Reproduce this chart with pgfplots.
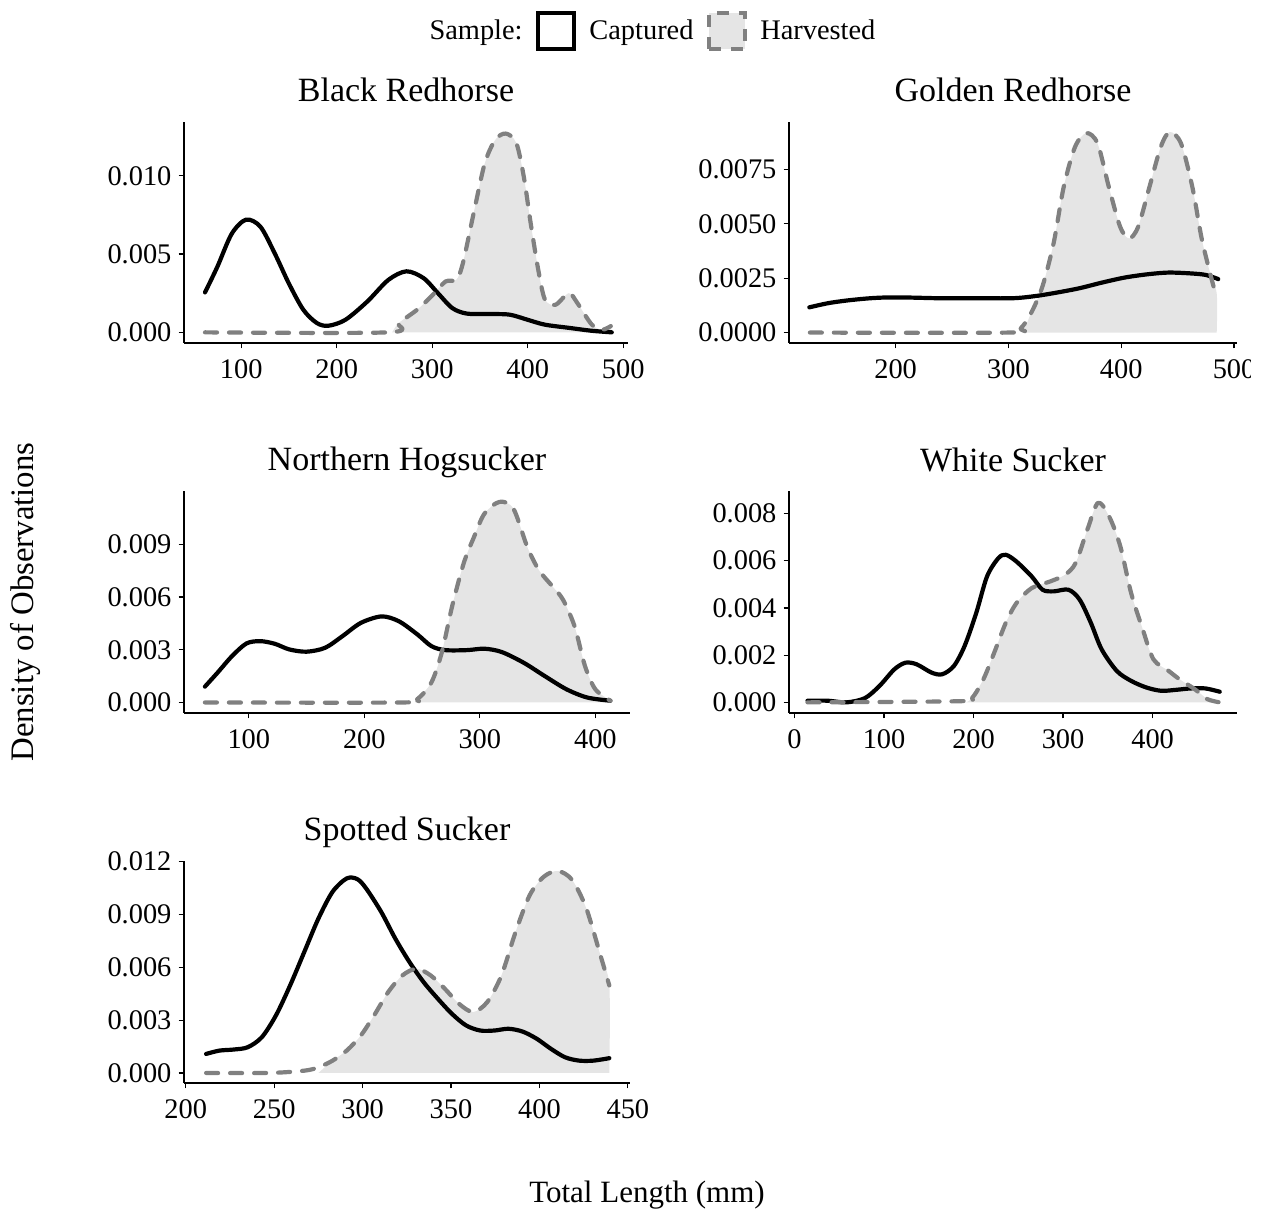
\documentclass[border=0pt]{standalone}
\usepackage{pgfplots}
\pgfplotsset{compat=1.18}
\usepackage{fontspec}
\setmainfont{Liberation Serif}
\definecolor{harvline}{HTML}{808080}
\definecolor{hfill}{HTML}{E5E5E5}
\pgfplotsset{
  dens/.style={
    scale only axis,
    axis x line*=bottom, axis y line*=left,
    axis line style={-, line width=0.6pt, black},
    every outer x axis line/.append style={-},
    every outer y axis line/.append style={-},
    xtick pos=left, ytick pos=left,
    tick align=outside,
    major tick length=2.75pt,
    every tick/.style={black, line width=0.6pt},
    tick label style={font=\fontsize{14.2}{16}\selectfont, black},
    xticklabel style={yshift=-2pt},
    /pgf/number format/assume math mode=true,
    scaled y ticks=false, scaled x ticks=false,
    title style={font=\fontsize{17}{20}\selectfont, at={(0.5,1)}, anchor=base, yshift=4pt},
  },
  capt/.style={black, line width=2.1pt, line join=round, line cap=round, smooth, tension=0.5, forget plot},
  harv/.style={harvline, line width=2.1pt, dash pattern=on 6pt off 6pt, line cap=round, line join=round, smooth, tension=0.5, forget plot},
  hfillst/.style={fill=hfill, draw=none, smooth, tension=0.5, forget plot},
}
\begin{document}
\begin{tikzpicture}
\useasboundingbox (0,0) rectangle (631.5pt,607pt);
\clip (0,0) rectangle (625pt,607pt);

% ---------- Black Redhorse ----------
\begin{axis}[dens, at={(92pt,435.5pt)}, anchor=south west, width=222pt, height=110.5pt,
  xmin=40, xmax=505, ymin=-0.00068, ymax=0.01344,
  xtick={100,200,300,400,500}, xticklabels={100,200,300,400,500},
  ytick={0,0.005,0.01}, yticklabels={0.000,0.005,0.010},
  title={Black Redhorse},
  legend columns=-1,
  legend style={draw=none, fill=none, font=\fontsize{14.2}{16}\selectfont, at={(1.045,1.412)}, anchor=center,
    /tikz/every odd column/.append style={column sep=4.5pt},
    /tikz/every even column/.append style={column sep=4.5pt}},
]
\addlegendimage{empty legend}\addlegendentry{Sample:}
\addlegendimage{legend image code/.code={\draw[black, line width=2.4pt, fill=white] (0pt,-9pt) rectangle (18pt,9pt);}}
\addlegendentry{Captured}
\addlegendimage{legend image code/.code={\draw[harvline, line width=2.4pt, fill=hfill, dash pattern=on 6pt off 5pt] (0pt,-9pt) rectangle (18pt,9pt);}}
\addlegendentry{Harvested}
\addplot[hfillst] coordinates {(258,0) (265,0.0006) (284,0.00144) (299,0.0023) (314,0.00325) (325,0.00335) (332,0.0044) (344,0.0078) (355,0.0108) (366,0.0123) (377,0.0127) (388,0.0121) (396,0.0099) (403,0.007) (411,0.004) (418,0.0021) (429,0.00176) (443,0.0025) (452,0.00187) (467,0.0005) (478,0.00017) (487,0.0004) (487,0)} \closedcycle;
\addplot[capt] coordinates {(62,0.00255) (75,0.0042) (90,0.0063) (105,0.0072) (120,0.00675) (135,0.00505) (150,0.0031) (165,0.00144) (179,0.0006) (191,0.00042) (209,0.0008) (232,0.00197) (254,0.00335) (273,0.0039) (291,0.00346) (306,0.0025) (321,0.00155) (336,0.0012) (359,0.00117) (381,0.00113) (400,0.0008) (418,0.00049) (444,0.00028) (467,0.0001) (488,0.0)};
\addplot[harv] coordinates {(62,0) (254,0) (265,0.0006) (284,0.00144) (299,0.0023) (314,0.00325) (325,0.00335) (332,0.0044) (344,0.0078) (355,0.0108) (366,0.0123) (377,0.0127) (388,0.0121) (396,0.0099) (403,0.007) (411,0.004) (418,0.0021) (429,0.00176) (443,0.0025) (452,0.00187) (467,0.0005) (478,0.00017) (487,0.0004)};
\end{axis}

% ---------- Golden Redhorse ----------
\begin{axis}[dens, at={(394.5pt,435.5pt)}, anchor=south west, width=224pt, height=110.5pt,
  xmin=105.5, xmax=502.6, ymin=-0.00048, ymax=0.00969,
  xtick={200,300,400,500}, xticklabels={200,300,400,500},
  ytick={0,0.0025,0.005,0.0075}, yticklabels={0.0000,0.0025,0.0050,0.0075},
  title={Golden Redhorse},
]
\addplot[hfillst] coordinates {(313,0) (320,0.00089) (330,0.0021) (340,0.0041) (349,0.0067) (359,0.00854) (369,0.00918) (379,0.0087) (389,0.0067) (399,0.00487) (407,0.00433) (415,0.00487) (425,0.0067) (435,0.00854) (443,0.00923) (453,0.0087) (463,0.0067) (471,0.0044) (478,0.00288) (484.6,0.0018) (484.6,0)} \closedcycle;
\addplot[capt] coordinates {(123.5,0.00116) (140,0.00135) (156,0.00147) (173,0.00156) (189,0.00161) (212,0.00161) (238,0.00158) (271,0.00158) (304,0.00158) (324,0.00168) (343,0.00184) (363,0.00204) (383,0.0023) (403,0.00253) (423,0.00268) (442,0.00276) (462,0.00272) (475,0.00265) (486,0.00246)};
\addplot[harv] coordinates {(124,0) (301,0) (311,0.0002) (320,0.00089) (330,0.0021) (340,0.0041) (349,0.0067) (359,0.00854) (369,0.00918) (379,0.0087) (389,0.0067) (399,0.00487) (407,0.00433) (415,0.00487) (425,0.0067) (435,0.00854) (443,0.00923) (453,0.0087) (463,0.0067) (471,0.0044) (478,0.00288) (484,0.0017)};
\end{axis}

% ---------- Northern Hogsucker ----------
\begin{axis}[dens, at={(92pt,250.5pt)}, anchor=south west, width=223pt, height=111pt,
  xmin=43.9, xmax=430, ymin=-0.0006, ymax=0.01204,
  xtick={100,200,300,400}, xticklabels={100,200,300,400},
  ytick={0,0.003,0.006,0.009}, yticklabels={0.000,0.003,0.006,0.009},
  title={Northern Hogsucker},
]
\addplot[hfillst] coordinates {(244,0) (246,0.0002) (258,0.00113) (267,0.00283) (276,0.00547) (286,0.00792) (295,0.00943) (304,0.01075) (317,0.01142) (329,0.01104) (341,0.00887) (351,0.00755) (363,0.0066) (372,0.00585) (382,0.00434) (391,0.00208) (400,0.00075) (413,0.0001) (413,0)} \closedcycle;
\addplot[capt] coordinates {(62,0.0009) (73,0.0017) (85.5,0.00264) (98,0.00336) (110,0.00349) (122.5,0.00334) (135,0.00302) (150,0.00289) (166,0.00311) (181,0.00377) (197,0.00453) (215,0.0049) (230,0.00462) (246,0.00387) (258,0.00321) (270,0.00298) (289,0.00298) (304,0.00306) (319,0.00287) (338,0.00226) (356,0.00151) (375,0.00075) (393,0.00028) (413,0.0001)};
\addplot[harv] coordinates {(62,0) (233.5,0) (246,0.0002) (258,0.00113) (267,0.00283) (276,0.00547) (286,0.00792) (295,0.00943) (304,0.01075) (317,0.01142) (329,0.01104) (341,0.00887) (351,0.00755) (363,0.0066) (372,0.00585) (382,0.00434) (391,0.00208) (400,0.00075) (413,0.0001)};
\end{axis}

% ---------- White Sucker ----------
\begin{axis}[dens, at={(394.5pt,250.5pt)}, anchor=south west, width=224pt, height=111pt,
  xmin=-6.2, xmax=494.3, ymin=-0.00045, ymax=0.00895,
  xtick={0,100,200,300,400}, xticklabels={0,100,200,300,400},
  ytick={0,0.002,0.004,0.006,0.008}, yticklabels={0.000,0.002,0.004,0.006,0.008},
  title={White Sucker},
]
\addplot[hfillst] coordinates {(192,0) (198.5,0.0002) (211,0.00098) (223,0.0021) (236,0.00337) (248,0.00421) (265,0.00484) (285.5,0.00512) (302,0.0054) (314,0.0059) (327,0.0073) (339,0.00845) (351.6,0.00786) (364,0.0066) (376,0.00463) (389,0.00309) (401,0.00182) (418,0.00133) (430,0.00098) (447,0.00056) (461,0.00014) (468,0)} \closedcycle;
\addplot[capt] coordinates {(14.5,0.00007) (37,0.00007) (58,0) (78.6,0.00018) (95,0.0007) (111.5,0.0014) (124,0.00168) (136.5,0.00161) (153,0.00126) (165,0.00119) (178,0.00154) (190,0.00239) (203,0.00379) (215,0.00533) (227.5,0.0061) (236,0.00625) (248,0.00596) (265,0.00533) (277,0.00477) (289.5,0.0047) (306,0.00477) (318.5,0.00435) (331,0.00337) (343,0.00225) (360,0.00133) (376,0.00091) (393,0.00063) (409.5,0.00049) (426,0.00053) (442.6,0.00059) (459,0.00059) (475,0.00045)};
\addplot[harv] coordinates {(14.5,0) (186,0.00005) (198.5,0.0002) (211,0.00098) (223,0.0021) (236,0.00337) (248,0.00421) (265,0.00484) (285.5,0.00512) (302,0.0054) (314,0.0059) (327,0.0073) (339,0.00845) (351.6,0.00786) (364,0.0066) (376,0.00463) (389,0.00309) (401,0.00182) (418,0.00133) (430,0.00098) (447,0.00056) (461,0.00014) (475,0.0)};
\end{axis}

% ---------- Spotted Sucker ----------
\begin{axis}[dens, at={(92pt,65.5pt)}, anchor=south west, width=223pt, height=111pt,
  xmin=199, xmax=451.2, ymin=-0.00057, ymax=0.01204,
  xtick={200,250,300,350,400,450}, xticklabels={200,250,300,350,400,450},
  ytick={0,0.003,0.006,0.009,0.012}, yticklabels={0.000,0.003,0.006,0.009,0.012},
  title={Spotted Sucker},
]
\addplot[hfillst] coordinates {(275,0) (283,0.0007) (291,0.00127) (299,0.00213) (306.5,0.00327) (314.5,0.0046) (322.5,0.00554) (330.5,0.00592) (338.5,0.00554) (346.5,0.00478) (354.5,0.00393) (362.5,0.00346) (370.5,0.00403) (378.5,0.00554) (386.5,0.00801) (394.5,0.0101) (402.5,0.01115) (410.5,0.01147) (418.5,0.01096) (426.5,0.00934) (434.5,0.00668) (439.5,0.00497) (439.5,0)} \closedcycle;
\addplot[capt] coordinates {(211.5,0.00108) (219,0.00127) (227,0.00133) (235,0.00146) (243,0.00203) (251,0.00327) (259,0.00497) (267,0.00687) (275,0.00877) (283,0.01029) (291,0.01105) (297,0.01101) (302,0.01048) (310.5,0.00915) (318.5,0.00763) (326.5,0.0063) (334.5,0.00516) (342.5,0.00422) (350.5,0.00336) (358.5,0.0027) (366.5,0.00241) (374.5,0.00241) (382.5,0.00251) (390.5,0.00235) (398.5,0.00194) (406.5,0.00137) (414.5,0.00089) (422.5,0.0007) (430.5,0.0007) (439.5,0.00084)};
\addplot[harv] coordinates {(211.5,0) (247,0) (267,0.00013) (275,0.00032) (283,0.0007) (291,0.00127) (299,0.00213) (306.5,0.00327) (314.5,0.0046) (322.5,0.00554) (330.5,0.00592) (338.5,0.00554) (346.5,0.00478) (354.5,0.00393) (362.5,0.00346) (370.5,0.00403) (378.5,0.00554) (386.5,0.00801) (394.5,0.0101) (402.5,0.01115) (410.5,0.01147) (418.5,0.01096) (426.5,0.00934) (434.5,0.00668) (439.5,0.00497)};
\end{axis}

\node[rotate=90, font=\fontsize{16.4}{19}\selectfont] at (12.5pt,306pt) {Density of Observations};
\node[font=\fontsize{15.5}{18}\selectfont] at (323.5pt,9.5pt) {Total Length (mm)};
\end{tikzpicture}
\end{document}
